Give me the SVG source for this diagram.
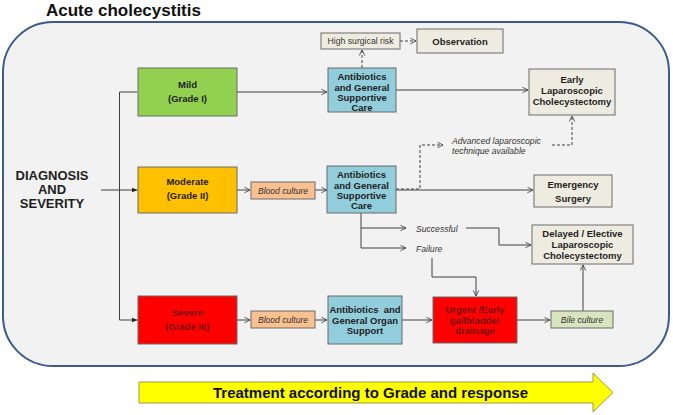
<svg xmlns="http://www.w3.org/2000/svg" width="673" height="415" viewBox="0 0 673 415">
<defs>
<style>
.t{font-family:"Liberation Sans",Arial,sans-serif;fill:#1e1e1e;text-anchor:middle}
.b{font-weight:bold;font-size:9.5px}
.i{font-style:italic;font-size:8.6px;fill:#333}
.r{fill:#7a0a0a}
.bx{stroke:#6b6b6b;stroke-width:1}
.c{fill:none;stroke:#404040;stroke-width:1}
.d{fill:none;stroke:#404040;stroke-width:1;stroke-dasharray:3,2}
</style>
<marker id="o" viewBox="0 0 10 10" refX="9" refY="5" markerWidth="7" markerHeight="7" orient="auto" markerUnits="userSpaceOnUse">
<path d="M1,1 L9,5 L1,9" fill="none" stroke="#404040" stroke-width="1.2"/>
</marker>
<marker id="f" viewBox="0 0 10 10" refX="9" refY="5" markerWidth="6" markerHeight="6" orient="auto" markerUnits="userSpaceOnUse">
<path d="M0,1 L10,5 L0,9 Z" fill="#222"/>
</marker>
</defs>
<rect width="673" height="415" fill="#ffffff"/>
<text x="46" y="16" style="font-family:'Liberation Sans',Arial,sans-serif;font-weight:bold;font-size:17px;fill:#111">Acute cholecystitis</text>
<rect x="3" y="22" width="666" height="344" rx="50" ry="50" fill="#f2f2f2" stroke="#3c5b8c" stroke-width="2"/>

<g id="connectors">
<path class="c" d="M101,190 H137" marker-end="url(#f)"/>
<path class="c" d="M137,92 H119.5 V320 H137" marker-end="url(#f)"/>
<path class="c" d="M237,92 H327" marker-end="url(#o)"/>
<path class="c" d="M396,90 H528" marker-end="url(#o)"/>
<path class="d" d="M362,68 V50" marker-end="url(#o)"/>
<path class="d" d="M400,41 H416" marker-end="url(#o)"/>
<path class="c" d="M237,190 H250" marker-end="url(#o)"/>
<path class="c" d="M315,190 H327" marker-end="url(#o)"/>
<path class="c" d="M396,190 H533" marker-end="url(#o)"/>
<path class="d" d="M396,189 H420 V145 H443" marker-end="url(#o)"/>
<path class="d" d="M552,145 H572 V116" marker-end="url(#o)"/>
<path class="c" d="M361,213 V248 H406" marker-end="url(#o)"/>
<path class="c" d="M361,228 H406" marker-end="url(#o)"/>
<path class="c" d="M466,228 H499 V245 H531" marker-end="url(#o)"/>
<path class="c" d="M432,258 V277 H476 V296" marker-end="url(#o)"/>
<path class="c" d="M237,320 H250" marker-end="url(#o)"/>
<path class="c" d="M315,320 H327" marker-end="url(#o)"/>
<path class="c" d="M402,320 H432" marker-end="url(#o)"/>
<path class="c" d="M517,320 H550" marker-end="url(#o)"/>
<path class="c" d="M583,311 V265" marker-end="url(#o)"/>
</g>

<g id="diagnosis">
<text class="t" x="52" y="180" style="font-weight:bold;font-size:13px">DIAGNOSIS</text>
<text class="t" x="52" y="194" style="font-weight:bold;font-size:13px">AND</text>
<text class="t" x="52" y="208" style="font-weight:bold;font-size:13px">SEVERITY</text>
</g>

<g id="mild">
<rect class="bx" x="138" y="68" width="99" height="48" fill="#92d050" stroke="#4a4a4a"/>
<text class="t b" x="187.5" y="88">Mild</text>
<text class="t b" x="187.5" y="102">(Grade I)</text>
</g>
<g id="abx1">
<rect class="bx" x="328" y="68" width="68" height="44" fill="#92cddc"/>
<text class="t b" x="362" y="80">Antibiotics</text>
<text class="t b" x="362" y="90.5">and General</text>
<text class="t b" x="362" y="101">Supportive</text>
<text class="t b" x="362" y="111">Care</text>
</g>
<g id="highrisk">
<rect class="bx" x="321" y="33" width="79" height="16" fill="#eeece1"/>
<text class="t" x="360.5" y="44" style="font-size:8.7px;fill:#333">High surgical risk</text>
</g>
<g id="observation">
<rect class="bx" x="417" y="29" width="86" height="24" fill="#eeece1" stroke="#555"/>
<text class="t b" x="460" y="44.5">Observation</text>
</g>
<g id="early">
<rect class="bx" x="529" y="69" width="86" height="46" fill="#eeece1" stroke="#555"/>
<text class="t b" x="572" y="83">Early</text>
<text class="t b" x="572" y="94">Laparoscopic</text>
<text class="t b" x="572" y="105">Cholecystectomy</text>
</g>

<g id="moderate">
<rect class="bx" x="138" y="167" width="99" height="46" fill="#ffc000" stroke="#4a4a4a"/>
<text class="t b" x="187.5" y="185">Moderate</text>
<text class="t b" x="187.5" y="199">(Grade II)</text>
</g>
<g id="blood1">
<rect class="bx" x="251" y="182" width="64" height="17" fill="#fac090" stroke="#8a8a8a"/>
<text class="t i" x="283" y="193.5">Blood culture</text>
</g>
<g id="abx2">
<rect class="bx" x="327" y="166" width="69" height="47" fill="#92cddc"/>
<text class="t b" x="361.5" y="178">Antibiotics</text>
<text class="t b" x="361.5" y="188.5">and General</text>
<text class="t b" x="361.5" y="199">Supportive</text>
<text class="t b" x="361.5" y="209">Care</text>
</g>
<g id="advanced">
<text class="t i" x="452" y="144" style="text-anchor:start">Advanced laparoscopic</text>
<text class="t i" x="452" y="154" style="text-anchor:start">technique available</text>
</g>
<g id="emergency">
<rect class="bx" x="534" y="175" width="78" height="32" fill="#eeece1" stroke="#555"/>
<text class="t b" x="573" y="187.5">Emergency</text>
<text class="t b" x="573" y="201.5">Surgery</text>
</g>
<g id="successful">
<text class="t i" x="416" y="232" style="text-anchor:start">Successful</text>
</g>
<g id="failure">
<text class="t i" x="416" y="252" style="text-anchor:start">Failure</text>
</g>
<g id="delayed">
<rect class="bx" x="532" y="225" width="101" height="39" fill="#eeece1" stroke="#555"/>
<text class="t b" x="582.5" y="237">Delayed / Elective</text>
<text class="t b" x="582.5" y="248">Laparoscopic</text>
<text class="t b" x="582.5" y="259">Cholecystectomy</text>
</g>

<g id="severe">
<rect class="bx" x="138" y="296" width="99" height="48" fill="#ff0000" stroke="#4a4a4a"/>
<text class="t b r" x="187.5" y="316">Severe</text>
<text class="t b r" x="187.5" y="330">(Grade III)</text>
</g>
<g id="blood2">
<rect class="bx" x="251" y="311" width="64" height="17" fill="#fac090" stroke="#8a8a8a"/>
<text class="t i" x="283" y="322.5">Blood culture</text>
</g>
<g id="abx3">
<rect class="bx" x="328" y="296" width="74" height="48" fill="#92cddc"/>
<text class="t b" x="365" y="313" xml:space="preserve">Antibiotics  and</text>
<text class="t b" x="365" y="323.5">General Organ</text>
<text class="t b" x="365" y="333.5">Support</text>
</g>
<g id="urgent">
<rect class="bx" x="433" y="297" width="84" height="46" fill="#ff0000" stroke="#4a4a4a"/>
<text class="t b r" x="475" y="313">Urgent /Early</text>
<text class="t b r" x="475" y="323.5">gallbladder</text>
<text class="t b r" x="475" y="334">drainage</text>
</g>
<g id="bile">
<rect class="bx" x="551" y="311" width="62" height="17" fill="#d7e4bd" stroke="#777"/>
<text class="t i" x="582" y="322.5">Bile culture</text>
</g>

<g id="treatment">
<path d="M139,382 H593 V373 L613,392.5 L593,412 V403 H139 Z" fill="#ffff00" stroke="#9a9a50" stroke-width="1"/>
<text class="t" x="370.5" y="397.5" style="font-weight:bold;font-size:15px;fill:#111">Treatment according to Grade and response</text>
</g>
</svg>
